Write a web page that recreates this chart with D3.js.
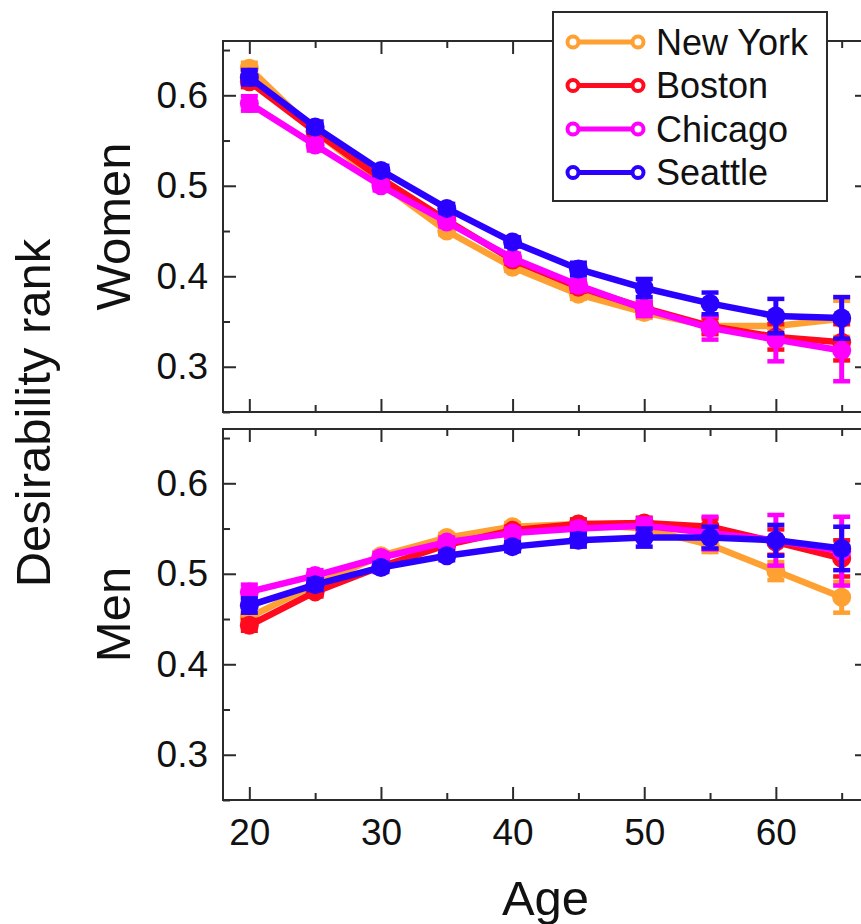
<!DOCTYPE html>
<html>
<head>
<meta charset="utf-8">
<script src="https://cdn.jsdelivr.net/npm/d3@7"></script>
<style>
  body { margin: 0; background: #fff; }
  svg { display: block; font-family: "Liberation Sans", Arial, Helvetica, sans-serif; }
</style>
</head>
<body>
<svg width="861" height="924"></svg>
<script>
const ages = [20, 25, 30, 35, 40, 45, 50, 55, 60, 65];
const cities = ["New York", "Boston", "Chicago", "Seattle"];
const cityColors = ["#ffa033", "#ff0a1e", "#ff00ff", "#2a00ff"];

// women, mean rank per age
const womenNewYork = [0.630, 0.560, 0.503, 0.450, 0.410, 0.380, 0.360, 0.345, 0.345, 0.353];
const womenBoston  = [0.615, 0.560, 0.508, 0.462, 0.418, 0.388, 0.365, 0.345, 0.333, 0.327];
const womenChicago = [0.591, 0.545, 0.500, 0.460, 0.420, 0.390, 0.364, 0.343, 0.330, 0.318];
const womenSeattle = [0.620, 0.565, 0.517, 0.475, 0.438, 0.408, 0.387, 0.370, 0.356, 0.354];
const womenNewYorkErr = [0.006, 0.005, 0.004, 0.004, 0.004, 0.005, 0.006, 0.008, 0.012, 0.020];
const womenBostonErr  = [0.006, 0.005, 0.004, 0.004, 0.004, 0.005, 0.006, 0.009, 0.014, 0.020];
const womenChicagoErr = [0.008, 0.006, 0.005, 0.005, 0.005, 0.006, 0.008, 0.013, 0.024, 0.034];
const womenSeattleErr = [0.008, 0.006, 0.005, 0.005, 0.005, 0.007, 0.010, 0.012, 0.019, 0.023];

// men, mean rank per age
const menNewYork = [0.452, 0.488, 0.520, 0.540, 0.552, 0.555, 0.550, 0.532, 0.503, 0.474];
const menBoston  = [0.443, 0.480, 0.508, 0.532, 0.548, 0.555, 0.556, 0.552, 0.535, 0.517];
const menChicago = [0.480, 0.498, 0.518, 0.535, 0.545, 0.550, 0.553, 0.545, 0.537, 0.525];
const menSeattle = [0.465, 0.488, 0.507, 0.520, 0.530, 0.537, 0.540, 0.540, 0.537, 0.528];
const menNewYorkErr = [0.006, 0.005, 0.004, 0.004, 0.004, 0.005, 0.006, 0.008, 0.010, 0.017];
const menBostonErr  = [0.006, 0.005, 0.004, 0.004, 0.004, 0.005, 0.006, 0.009, 0.014, 0.020];
const menChicagoErr = [0.008, 0.006, 0.005, 0.005, 0.005, 0.006, 0.008, 0.018, 0.028, 0.038];
const menSeattleErr = [0.008, 0.006, 0.005, 0.005, 0.005, 0.007, 0.010, 0.012, 0.017, 0.024];

const yMajor = [0.3, 0.4, 0.5, 0.6];
const yMinor = [0.25, 0.35, 0.45, 0.55, 0.65];
const xMajor = [20, 30, 40, 50, 60];
const xMinor = [25, 35, 45, 55, 65];

const svg = d3.select("svg");
const left = 223, right = 868;
const x = d3.scaleLinear().domain([18, 67]).range([left, right]);

const panels = [
  { label: "Women", top: 41, bottom: 412, series: [womenNewYork, womenBoston, womenChicago, womenSeattle],
    errs: [womenNewYorkErr, womenBostonErr, womenChicagoErr, womenSeattleErr] },
  { label: "Men", top: 429, bottom: 800, series: [menNewYork, menBoston, menChicago, menSeattle],
    errs: [menNewYorkErr, menBostonErr, menChicagoErr, menSeattleErr] }
];

const frameColor = "#2b2b2b";

function styleTicks(g) {
  g.select(".domain").remove();
  g.selectAll("line").attr("stroke", frameColor).attr("stroke-width", 2);
}

panels.forEach((p, pi) => {
  const y = d3.scaleLinear().domain([0.25, 0.66]).range([p.bottom, p.top]);
  const g = svg.append("g");

  // ticks on all four sides, pointing inward
  [[yMajor, 13], [yMinor, 7]].forEach(([vals, len]) => {
    g.append("g").attr("transform", `translate(${left},0)`)
      .call(d3.axisRight(y).tickValues(vals).tickSize(len).tickFormat("")).call(styleTicks);
    g.append("g").attr("transform", `translate(${right},0)`)
      .call(d3.axisLeft(y).tickValues(vals).tickSize(len).tickFormat("")).call(styleTicks);
  });
  [[xMajor, 13], [xMinor, 7]].forEach(([vals, len]) => {
    g.append("g").attr("transform", `translate(0,${p.bottom})`)
      .call(d3.axisTop(x).tickValues(vals).tickSize(len).tickFormat("")).call(styleTicks);
    g.append("g").attr("transform", `translate(0,${p.top})`)
      .call(d3.axisBottom(x).tickValues(vals).tickSize(len).tickFormat("")).call(styleTicks);
  });

  // y tick labels
  const yl = g.append("g").attr("transform", `translate(${left},0)`)
    .call(d3.axisLeft(y).tickValues(yMajor).tickSize(0).tickPadding(15).tickFormat(d3.format(".1f")));
  yl.select(".domain").remove();
  yl.selectAll("text").attr("font-size", 37).attr("fill", "#111").attr("font-family", null);

  g.append("rect")
    .attr("x", left).attr("y", p.top)
    .attr("width", right - left).attr("height", p.bottom - p.top)
    .attr("fill", "none").attr("stroke", frameColor).attr("stroke-width", 2);

  g.append("text")
    .attr("transform", `translate(130,${(p.top + p.bottom) / 2}) rotate(-90)`)
    .attr("text-anchor", "middle")
    .attr("font-size", 49).attr("fill", "#111")
    .text(p.label);

  const line = d3.line().x((d, i) => x(ages[i])).y(d => y(d));

  p.series.forEach((vals, ci) => {
    const c = cityColors[ci];
    const s = g.append("g");
    s.append("path").datum(vals)
      .attr("d", line).attr("fill", "none")
      .attr("stroke", c).attr("stroke-width", 6.5).attr("stroke-linejoin", "round");

    const eb = s.selectAll(".eb").data(vals).enter().append("g");
    eb.append("line")
      .attr("x1", (d, i) => x(ages[i])).attr("x2", (d, i) => x(ages[i]))
      .attr("y1", (d, i) => y(d - p.errs[ci][i])).attr("y2", (d, i) => y(d + p.errs[ci][i]))
      .attr("stroke", c).attr("stroke-width", 5);
    [-1, 1].forEach(sign => {
      eb.append("line")
        .attr("x1", (d, i) => x(ages[i]) - 8.5).attr("x2", (d, i) => x(ages[i]) + 8.5)
        .attr("y1", (d, i) => y(d + sign * p.errs[ci][i]))
        .attr("y2", (d, i) => y(d + sign * p.errs[ci][i]))
        .attr("stroke", c).attr("stroke-width", 4.5);
    });

    s.selectAll("circle").data(vals).enter().append("circle")
      .attr("cx", (d, i) => x(ages[i])).attr("cy", d => y(d))
      .attr("r", 9.5).attr("fill", c);
  });
});

// x tick labels
const xl = svg.append("g").attr("transform", `translate(0,800)`)
  .call(d3.axisBottom(x).tickValues(xMajor).tickSize(0).tickPadding(19));
xl.select(".domain").remove();
xl.selectAll("text").attr("font-size", 37).attr("fill", "#111").attr("font-family", null);

svg.append("text")
  .attr("x", (left + right) / 2).attr("y", 915)
  .attr("text-anchor", "middle")
  .attr("font-size", 49).attr("fill", "#111")
  .text("Age");

svg.append("text")
  .attr("transform", "translate(50,413) rotate(-90)")
  .attr("text-anchor", "middle")
  .attr("font-size", 49).attr("fill", "#111")
  .text("Desirability rank");

// legend
const legend = svg.append("g");
legend.append("rect")
  .attr("x", 553).attr("y", 12).attr("width", 274).attr("height", 189)
  .attr("fill", "#fff").attr("stroke", frameColor).attr("stroke-width", 2);

const rows = legend.selectAll(".row").data(cities).enter().append("g")
  .attr("transform", (d, i) => `translate(0,${42 + i * 43.5})`);
rows.append("line")
  .attr("x1", 573).attr("x2", 638).attr("y1", 0).attr("y2", 0)
  .attr("stroke", (d, i) => cityColors[i]).attr("stroke-width", 5);
[573, 638].forEach(cx => {
  rows.append("circle")
    .attr("cx", cx).attr("cy", 0).attr("r", 5.5)
    .attr("fill", "#fff").attr("stroke", (d, i) => cityColors[i]).attr("stroke-width", 4);
});
rows.append("text")
  .attr("x", 656).attr("y", 12.5)
  .attr("font-size", 36).attr("fill", "#111")
  .text(d => d);
</script>
</body>
</html>
